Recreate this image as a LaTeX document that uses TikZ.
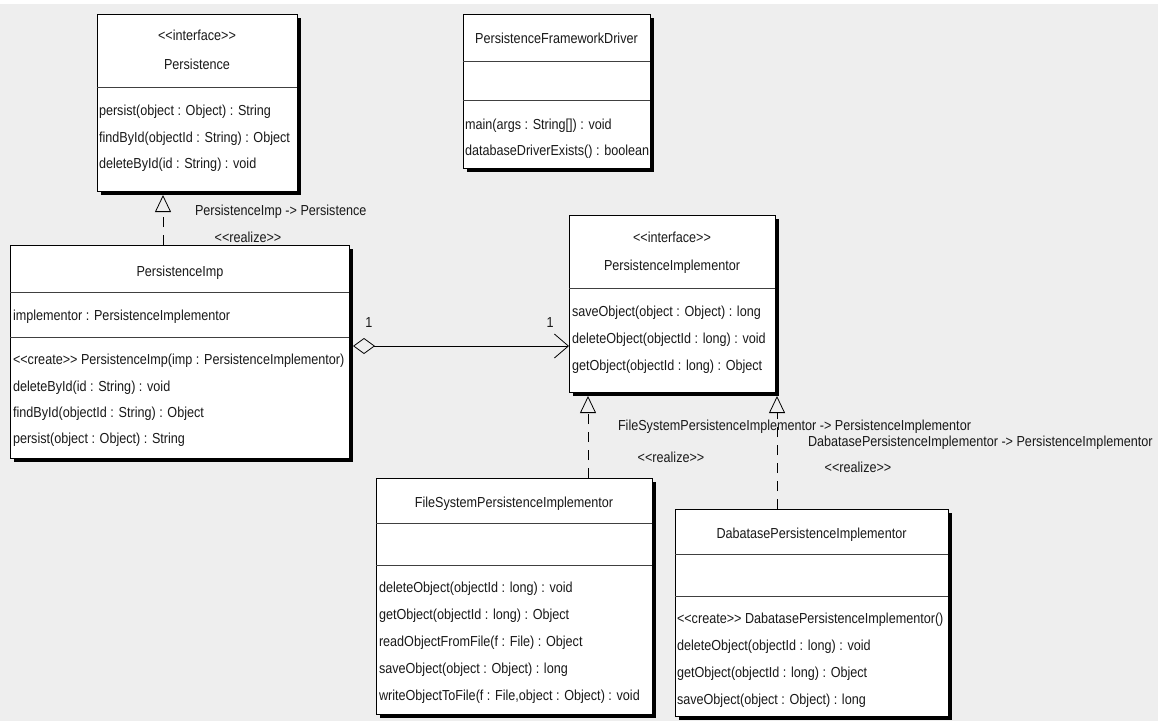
\documentclass[tikz,border=0pt]{standalone}
\usepackage{fontspec}
\setmainfont{Liberation Sans}[FakeStretch=0.87]
\usetikzlibrary{arrows.meta,calc,shadows}
\definecolor{canvas}{HTML}{EEEEEE}
% stereotype brackets without guillemet ligatures
\newcommand{\stereo}[1]{<{}<#1>{}>}
\begin{document}
\begin{tikzpicture}[x=1pt,y=-1pt,
  classbox/.style={draw=black,line width=1pt,fill=white,inner sep=0pt,outer sep=0pt,anchor=north west,
    general shadow={fill=black,shadow xshift=4pt,shadow yshift=-4pt}},
  divider/.style={draw=black!75,line width=0.9pt},
  txt/.style={inner sep=0pt,outer sep=0pt,font=\fontsize{14.5}{16}\selectfont,text=black!90},
  member/.style={txt,anchor=base west},
  title/.style={txt,anchor=base},
  realize/.style={line width=0.8pt,dash pattern=on 10pt off 8pt,
    -{Triangle[open,length=17pt,width=16pt,line width=0.8pt]}},
  aggregation/.style={line width=0.8pt,
    {Diamond[open,length=22pt,width=16pt,line width=0.8pt]}-{Straight Barb[length=14pt,width=24pt,line width=0.8pt]}}
]
\useasboundingbox (0,0) rectangle (1158,721);
\fill[canvas] (0,0) rectangle (1158,721);
\fill[white] (0,0) rectangle (1158,4);

% ---------- Persistence ----------
\node[classbox,minimum width=200pt,minimum height=177pt] (pers) at (97,14) {};
\draw[divider] (97,87) -- (297,87);
\node[title] (pers-st) at (197,40) {\stereo{interface}};
\node[title] (pers-t) at (197,69) {Persistence};
\node[member] (pers-m1) at (99,115) {persist(object : Object) : String};
\node[member] (pers-m2) at (99,142) {findById(objectId : String) : Object};
\node[member] (pers-m3) at (99,168) {deleteById(id : String) : void};

% ---------- PersistenceFrameworkDriver ----------
\node[classbox,minimum width=187pt,minimum height=154pt] (drv) at (463,14) {};
\draw[divider] (463,61) -- (650,61);
\draw[divider] (463,100) -- (650,100);
\node[title] (drv-t) at (556.5,43) {PersistenceFrameworkDriver};
\node[member] (drv-m1) at (465,129) {main(args : String[]) : void};
\node[member] (drv-m2) at (465,155) {databaseDriverExists() : boolean};

% ---------- PersistenceImp ----------
\node[classbox,minimum width=339pt,minimum height=213pt] (pimp) at (10,245) {};
\draw[divider] (10,292) -- (349,292);
\draw[divider] (10,337) -- (349,337);
\node[title] (pimp-t) at (180,276) {PersistenceImp};
\node[member] (pimp-a1) at (13,320) {implementor : PersistenceImplementor};
\node[member] (pimp-m1) at (13,364) {\stereo{create} PersistenceImp(imp : PersistenceImplementor)};
\node[member] (pimp-m2) at (13,391) {deleteById(id : String) : void};
\node[member] (pimp-m3) at (13,417) {findById(objectId : String) : Object};
\node[member] (pimp-m4) at (13,443) {persist(object : Object) : String};

% ---------- PersistenceImplementor ----------
\node[classbox,minimum width=206pt,minimum height=177pt] (pimpl) at (569,215) {};
\draw[divider] (569,288) -- (775,288);
\node[title] (pimpl-st) at (672,242) {\stereo{interface}};
\node[title] (pimpl-t) at (672,270) {PersistenceImplementor};
\node[member] (pimpl-m1) at (572,316) {saveObject(object : Object) : long};
\node[member] (pimpl-m2) at (572,343) {deleteObject(objectId : long) : void};
\node[member] (pimpl-m3) at (572,370) {getObject(objectId : long) : Object};

% ---------- FileSystemPersistenceImplementor ----------
\node[classbox,minimum width=276pt,minimum height=236pt] (fsi) at (376,478) {};
\draw[divider] (376,523) -- (652,523);
\draw[divider] (376,565) -- (652,565);
\node[title] (fsi-t) at (514,507) {FileSystemPersistenceImplementor};
\node[member] (fsi-m1) at (379,592) {deleteObject(objectId : long) : void};
\node[member] (fsi-m2) at (379,619) {getObject(objectId : long) : Object};
\node[member] (fsi-m3) at (379,646) {readObjectFromFile(f : File) : Object};
\node[member] (fsi-m4) at (379,673) {saveObject(object : Object) : long};
\node[member] (fsi-m5) at (379,700) {writeObjectToFile(f : File,object : Object) : void};

% ---------- DabatasePersistenceImplementor ----------
\node[classbox,minimum width=273pt,minimum height=207pt] (dbi) at (675,509) {};
\draw[divider] (675,554) -- (948,554);
\draw[divider] (675,596) -- (948,596);
\node[title] (dbi-t) at (811.5,538) {DabatasePersistenceImplementor};
\node[member] (dbi-m1) at (677,623) {\stereo{create} DabatasePersistenceImplementor()};
\node[member] (dbi-m2) at (677,650) {deleteObject(objectId : long) : void};
\node[member] (dbi-m3) at (677,677) {getObject(objectId : long) : Object};
\node[member] (dbi-m4) at (677,704) {saveObject(object : Object) : long};

% ---------- relations ----------
% PersistenceImp realizes Persistence
\coordinate (r1) at ($(pimp.north west)+(153,0)$);
\draw[realize] (r1) -- ($(r1 |- pers.south)+(0,4)$);
\node[member] (r1-name) at (195,215) {PersistenceImp -> Persistence};
\node[title] (r1-st) at (248,242) {\stereo{realize}};

% PersistenceImp aggregates PersistenceImplementor
\coordinate (agg) at ($(pimp.north east)+(4,101)$);
\draw[aggregation] (agg) -- (agg -| pimpl.west);
\node[title] (agg-m1) at (369,327) {1};
\node[title] (agg-m2) at (550,327) {1};

% FileSystemPersistenceImplementor realizes PersistenceImplementor
\coordinate (r2) at ($(fsi.north west)+(212,0)$);
\draw[realize] (r2) -- ($(r2 |- pimpl.south)+(0,4)$);
\node[member] (r2-name) at (618,430) {FileSystemPersistenceImplementor -> PersistenceImplementor};
\node[title] (r2-st) at (671,462) {\stereo{realize}};

% DabatasePersistenceImplementor realizes PersistenceImplementor
\coordinate (r3) at ($(dbi.north west)+(102,0)$);
\draw[realize] (r3) -- ($(r3 |- pimpl.south)+(0,4)$);
\node[member] (r3-name) at (808,446) {DabatasePersistenceImplementor -> PersistenceImplementor};
\node[title] (r3-st) at (858,472) {\stereo{realize}};
\end{tikzpicture}
\end{document}
